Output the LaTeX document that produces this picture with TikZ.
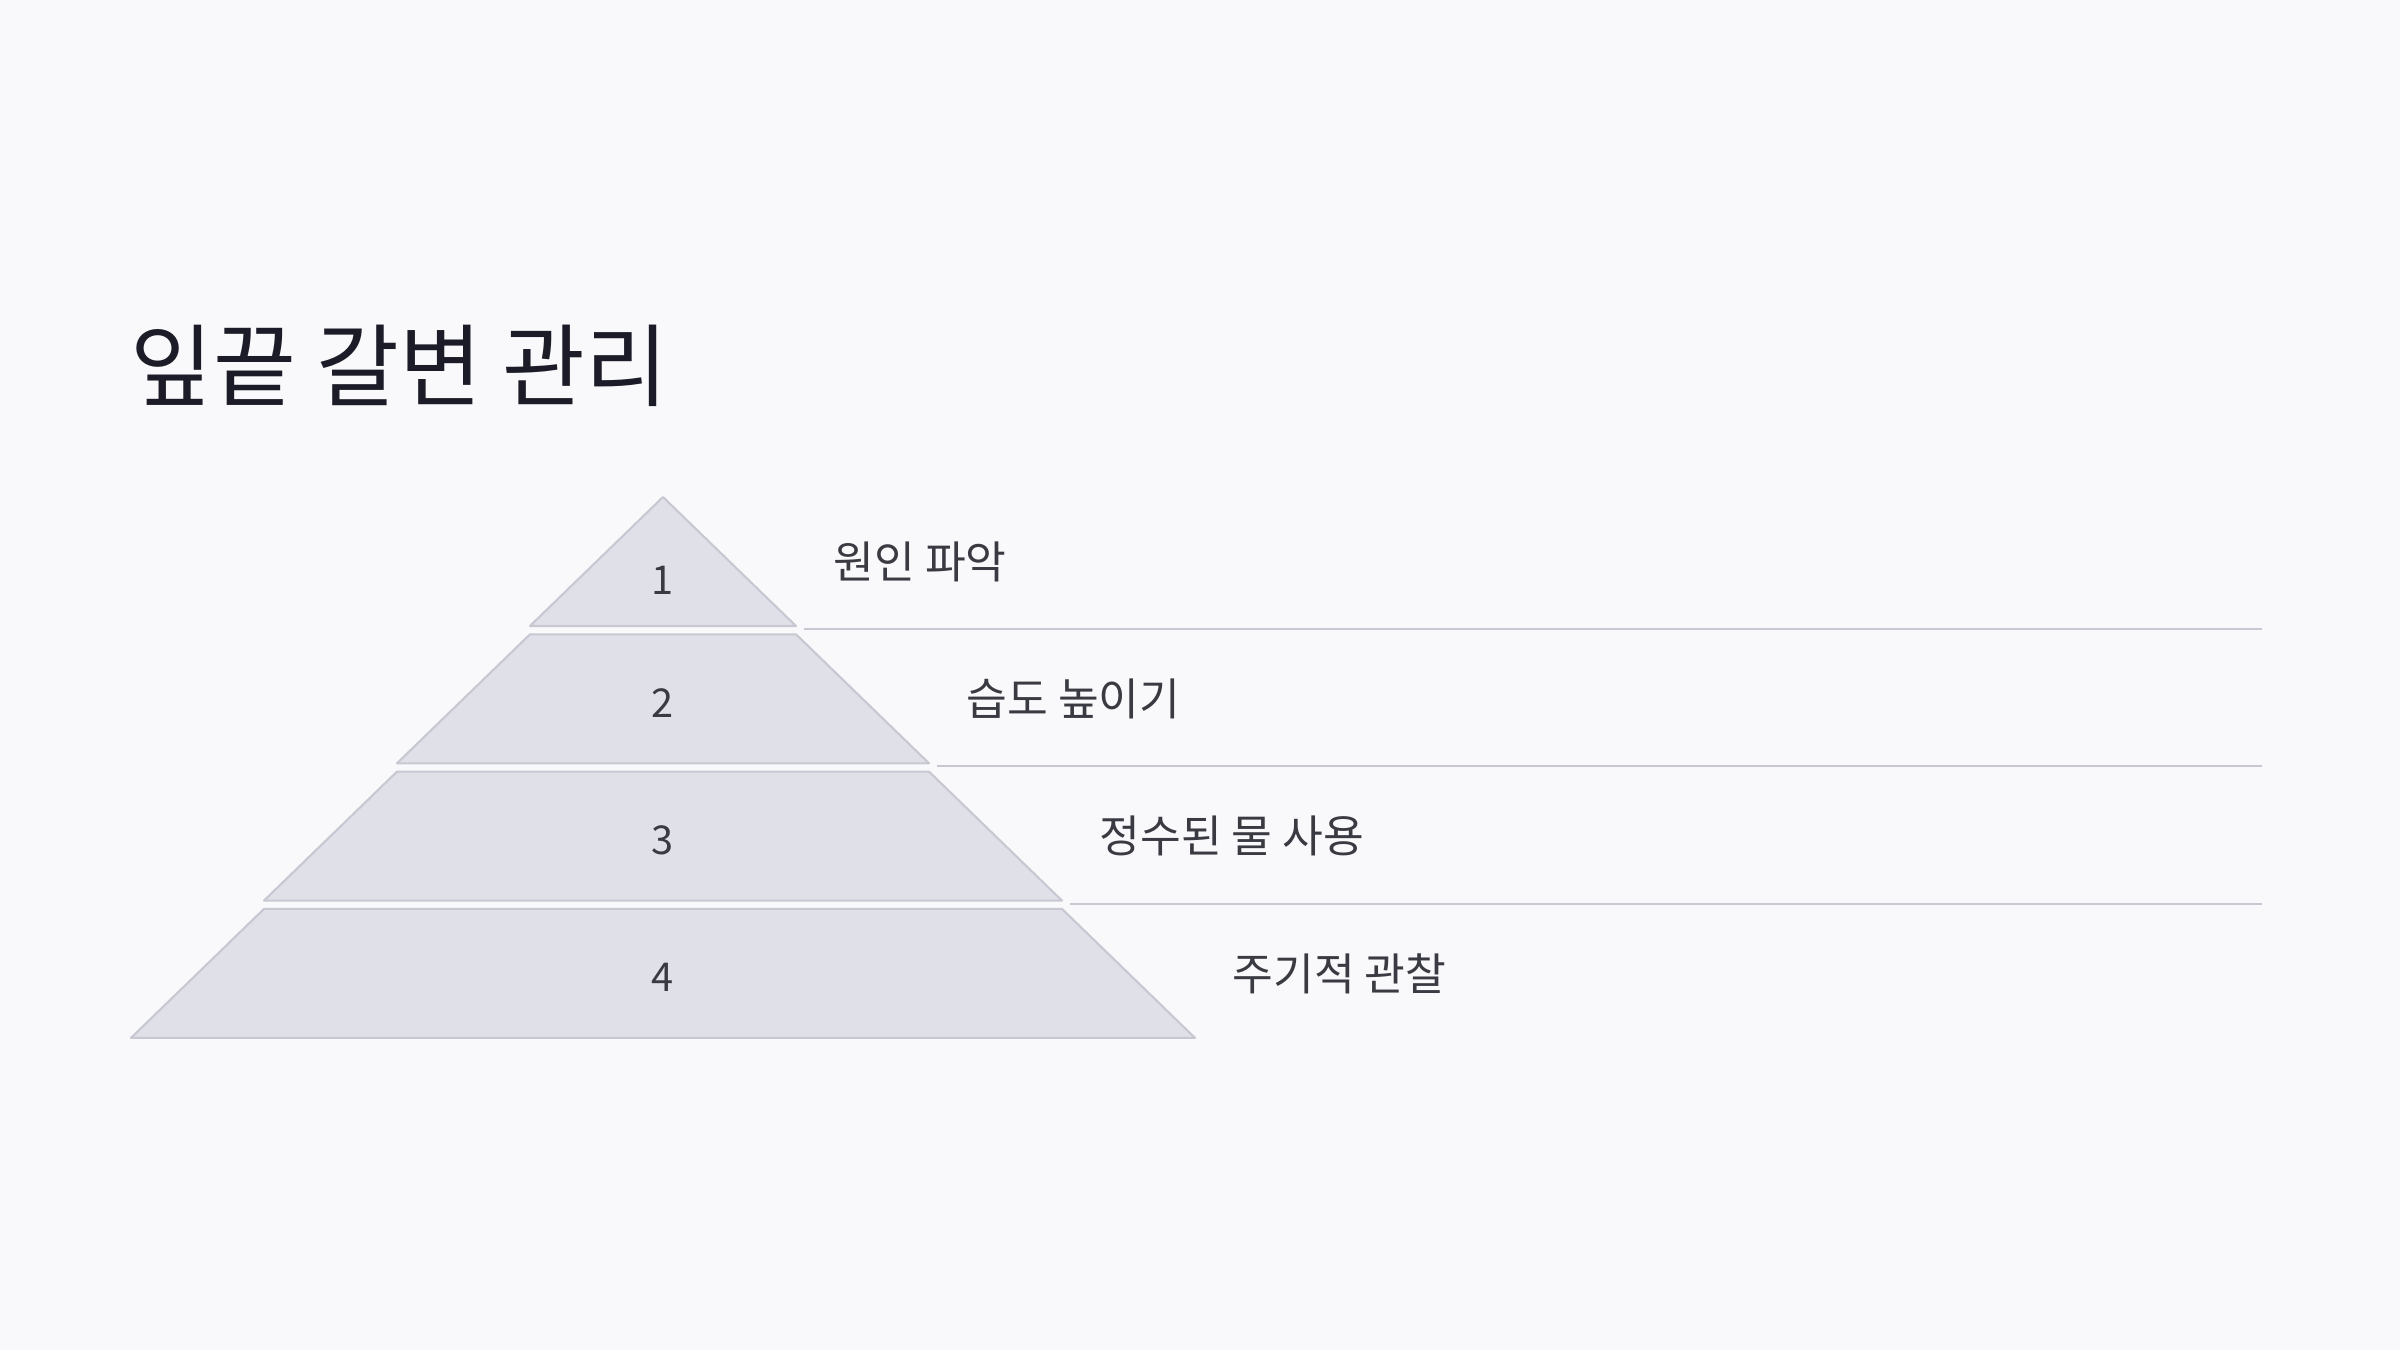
\documentclass[tikz,border=0pt]{standalone}
\usepackage{fontspec}
\setmainfont{Noto Sans CJK KR}
\usetikzlibrary{positioning}
\definecolor{pagebg}{HTML}{F9F9FB}
\definecolor{tierfill}{HTML}{E0E1E8}
\definecolor{tierline}{HTML}{C8C8D2}
\definecolor{titleink}{HTML}{1C1C28}
\definecolor{labelink}{HTML}{3A3A42}
\tikzset{
    tier/.style={fill=tierfill, draw=tierline, line width=0.6pt, line join=round},
    sepline/.style={draw=tierline, line width=0.6pt},
    titletext/.style={anchor=west, inner sep=0pt, text=titleink, font=\fontsize{25.6}{30}\selectfont},
    numtext/.style={inner sep=0pt, text=labelink, font=\fontsize{11.3}{13}\selectfont},
    labeltext/.style={anchor=west, inner sep=0pt, text=labelink, font=\fontsize{12.6}{15}\selectfont}
}

\begin{document}
\begin{tikzpicture}[x=0.01cm, y=-0.01cm]
    \fill[pagebg] (0,0) rectangle (2400,1350);
    \useasboundingbox (0,0) rectangle (2400,1350);
    % title
    \node[titletext] (title) at (130,366) {잎끝 갈변 관리};
    % pyramid tiers, labels and separators
    \foreach \k/\txt in {1/원인 파악, 2/습도 높이기, 3/정수된 물 사용, 4/주기적 관찰} {
        \pgfmathsetmacro\ytop{497+(\k-1)*137.3}
        \pgfmathsetmacro\ybot{\ytop+129}
        \pgfmathsetmacro\ymid{\ytop+64.5}
        \pgfmathsetmacro\wtop{133*(\k-1)}
        \pgfmathsetmacro\wbot{133*\k}
        \pgfmathsetmacro\ynum{\k==1 ? 580 : \ymid+4}
        \draw[tier] (663-\wtop,\ytop) -- (663+\wtop,\ytop) -- (663+\wbot,\ybot) -- (663-\wbot,\ybot) -- cycle;
        \node[numtext] (num\k) at (663,\ynum) {\k};
        \node[labeltext] (lab\k) at (700+133*\k,\ymid) {\txt};
        \ifnum\k<4
            \draw[sepline] (671+\wbot,\ybot+3) -- (2262,\ybot+3);
        \fi
    }
\end{tikzpicture}
\end{document}
